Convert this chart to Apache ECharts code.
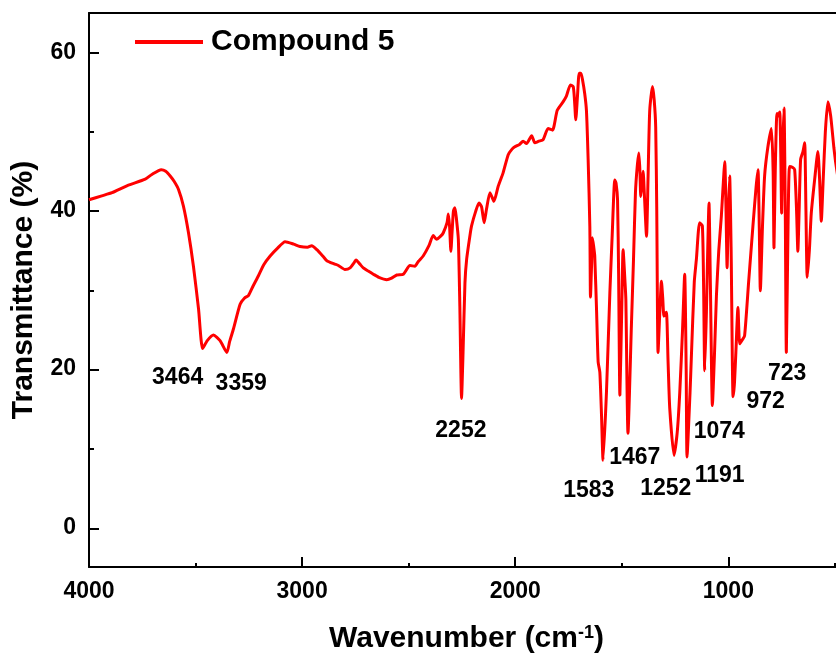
<!DOCTYPE html>
<html><head><meta charset="utf-8">
<script src="https://cdn.jsdelivr.net/npm/echarts@6/dist/echarts.min.js"></script>
<style>html,body{margin:0;padding:0;background:#fff}#c{width:836px;height:659px}</style>
</head><body><div id="c"></div>
<script>
// ---- data ----
const wavenumber = [4000,3940,3892,3820,3736,3705,3661,3640,3619,3600,3580,3557,3533,3510,3486,3467,3445,3416,3385,3353,3340,3322,3291,3270,3252,3230,3205,3180,3150,3115,3080,3040,3010,2975,2955,2931,2900,2884,2850,2830,2799,2775,2755,2747,2730,2713,2690,2666,2640,2603,2580,2556,2525,2494,2471,2455,2432,2405,2385,2369,2350,2338,2320,2314,2308,2302,2296,2290,2283,2276,2267,2260,2252,2245,2236,2228,2213,2205,2185,2170,2158,2146,2135,2119,2110,2100,2080,2057,2033,2015,2002,1980,1963,1947,1923,1908,1890,1869,1846,1825,1803,1775,1760,1741,1728,1722,1716,1708,1700,1692,1684,1674,1666,1658,1650,1647,1642,1638,1632,1627,1618,1611,1603,1595,1588,1572,1556,1545,1533,1527,1520,1515,1509,1500,1494,1485,1481,1471,1455,1445,1436,1428,1420,1415,1411,1405,1400,1394,1384,1377,1369,1356,1348,1341,1336,1330,1322,1314,1308,1302,1291,1283,1275,1255,1240,1228,1215,1205,1198,1194,1180,1174,1160,1150,1135,1122,1116,1111,1103,1097,1091,1084,1075,1065,1056,1045,1033,1025,1017,1011,1006,1000,994,987,978,972,965,955,947,935,924,905,885,870,861,855,850,840,830,815,798,790,786,780,772,765,759,754,750,745,739,733,728,720,713,700,689,680,674,668,661,650,642,636,630,620,611,595,580,572,564,555,545,533,520,505,497,485];
const transmittance = [41.4,41.9,42.3,43.2,44.0,44.6,45.2,45.0,44.4,43.7,42.7,40.6,37.2,33.0,27.6,22.6,23.6,24.3,23.6,22.1,23.5,25.1,28.2,29.0,29.3,30.5,31.8,33.2,34.3,35.3,36.1,35.8,35.5,35.4,35.6,35.1,34.2,33.7,33.3,33.1,32.6,32.8,33.5,33.8,33.3,32.8,32.4,32.0,31.6,31.3,31.5,31.9,32.0,33.1,33.0,33.6,34.3,35.6,36.9,36.4,36.8,37.2,38.5,39.6,38.0,34.9,37.5,40.0,40.4,39.0,36.4,28.0,16.3,22.0,30.9,33.9,36.8,38.1,40.0,41.0,40.5,38.5,40.2,42.3,41.8,41.2,43.1,44.8,47.1,47.8,48.1,48.4,48.8,48.5,49.5,48.6,48.8,49.0,50.4,50.2,52.7,53.8,54.5,55.9,55.7,54.0,51.5,54.5,57.4,57.4,56.5,54.8,52.7,46.5,38.0,29.1,33.0,36.6,35.5,34.3,27.0,20.9,19.6,14.0,8.5,17.1,29.7,37.0,43.9,43.5,41.4,32.0,16.7,28.0,35.1,31.0,28.8,11.9,25.5,34.0,42.3,45.5,47.3,45.0,41.8,43.5,45.0,42.0,36.8,44.0,52.7,55.7,54.0,50.6,40.0,22.1,27.0,31.1,29.0,26.7,27.2,21.0,15.0,9.1,12.0,17.1,25.0,32.0,20.0,8.9,17.0,21.3,31.0,33.9,38.5,38.1,30.0,19.8,27.2,35.0,41.0,30.0,15.4,22.0,29.3,35.0,39.3,43.0,46.2,40.0,32.8,40.0,44.4,35.0,16.5,18.0,22.0,27.8,23.2,23.7,24.2,31.0,38.0,43.0,45.2,38.0,29.9,38.0,44.4,48.0,50.4,45.0,35.3,45.0,52.3,52.0,52.5,47.0,39.7,48.0,53.0,40.0,22.1,38.0,45.6,45.5,45.2,40.0,34.9,40.0,46.5,47.5,48.6,40.0,31.6,35.0,39.7,44.0,47.5,44.0,38.7,44.0,50.0,53.8,52.0,48.0,46.2,44.0];
const peakText = ['3464','3359','2252','1583','1467','1252','1191','1074','972','723'];
const peakLabelWn = [3584,3286,2255,1655,1439,1294,1041,1043,825,724];
const peakLabelT = [18.9,18.2,12.2,4.6,8.8,4.9,6.6,12.1,15.9,19.4];
const xMajorTicks = [1000,2000,3000,4000];
const xMinorTicks = [500,1500,2500,3500];
const yMajorTicks = [0,20,40,60];
const yTickMin = 0, yTickMax = 60, yTickStep = 20;
const seriesName = 'Compound 5';

// ---- chart ----
const FONT = '"Liberation Sans", Arial, Helvetica, sans-serif';
const chart = echarts.init(document.getElementById('c'), null, {renderer:'canvas'});
const lineData = wavenumber.map((w,i)=>[w, transmittance[i]]);
const labelData = peakText.map((t,i)=>[peakLabelWn[i], peakLabelT[i], t]);
const axisLine = () => ({show:true, onZero:false, lineStyle:{color:'#000', width:2}});
const noLine = () => ({show:false, onZero:false});
const X_MIN = 495, X_MAX = 4000, Y_MIN = -5, Y_MAX = 65;
const xBase = (g) => ({type:'value', inverse:true, min:X_MIN, max:X_MAX, gridIndex:g, splitLine:{show:false}});
const yBase = (g) => ({type:'value', min:Y_MIN, max:Y_MAX, gridIndex:g, splitLine:{show:false}});
const tick = (vals, len) => ({show:true, inside:true, length:len, lineStyle:{color:'#000', width:2}, customValues:vals.slice()});
const labelStyle = (vals) => ({show:true, customValues:vals.slice(), formatter:v=>String(v), margin:13, fontSize:23, fontWeight:'bold', color:'#000', fontFamily:FONT});
const G = {left:89, right:0, top:13, bottom:91};
const H = 659 - G.top - G.bottom, pxPerUnit = H / (Y_MAX - Y_MIN);
// sub-grids spanning exactly yTickMin..yTickMax so interval ticks start at a multiple of the step
const tickTop = G.top + (Y_MAX - yTickMax) * pxPerUnit;
const tickBottom = G.bottom + (yTickMin - Y_MIN) * pxPerUnit;
const gridTicksY = {left:G.left, right:G.right, top:tickTop, bottom:tickBottom, show:false};
const gridMajorY = {left:G.left, width:10, top:tickTop, bottom:tickBottom, show:false};
chart.setOption({
  animation:false,
  backgroundColor:'#fff',
  grid:[Object.assign({}, G), Object.assign({show:false}, G), gridTicksY, gridMajorY],
  legend:{
    data:[seriesName], left:135, top:27, padding:0,
    itemWidth:68, itemHeight:4, icon:'rect',
    textStyle:{fontSize:30, fontWeight:'bold', color:'#000', fontFamily:FONT, padding:[0,0,0,3]}
  },
  xAxis:[
    Object.assign(xBase(0), {
      position:'bottom', axisLine:axisLine(),
      axisTick:tick(xMajorTicks, 10),
      axisLabel:labelStyle(xMajorTicks),
      name:'Wavenumber (cm{sup|-1})', nameLocation:'middle', nameGap:57,
      nameTextStyle:{fontSize:30, fontWeight:'bold', color:'#000', fontFamily:FONT, padding:[0,0,0,8],
        rich:{sup:{fontSize:18, fontWeight:'bold', color:'#000', fontFamily:FONT, verticalAlign:'top', lineHeight:16}}}
    }),
    Object.assign(xBase(0), {
      position:'top', axisLine:axisLine(), axisTick:{show:false}, axisLabel:{show:false}
    }),
    Object.assign(xBase(1), {
      position:'bottom', axisLine:noLine(), axisTick:tick(xMinorTicks, 5), axisLabel:{show:false}
    }),
    Object.assign(xBase(2), {
      position:'bottom', axisLine:noLine(), axisTick:{show:false}, axisLabel:{show:false}
    }),
    Object.assign(xBase(3), {
      position:'bottom', axisLine:noLine(), axisTick:{show:false}, axisLabel:{show:false}
    })
  ],
  yAxis:[
    Object.assign(yBase(0), {
      position:'left', axisLine:axisLine(),
      axisTick:{show:false},
      axisLabel:labelStyle(yMajorTicks),
      name:'Transmittance (%)', nameLocation:'middle', nameGap:50,
      nameTextStyle:{fontSize:30, fontWeight:'bold', color:'#000', fontFamily:FONT}
    }),
    Object.assign(yBase(1), {
      position:'left', axisLine:noLine(), axisTick:{show:false}, axisLabel:{show:false}
    }),
    {
      type:'value', gridIndex:2, position:'left', min:yTickMin, max:yTickMax, interval:yTickStep,
      axisLine:noLine(), axisLabel:{show:false}, splitLine:{show:false},
      axisTick:{show:true, inside:true, length:10, lineStyle:{color:'#000', width:2}},
      minorTick:{show:true, splitNumber:2, length:5, lineStyle:{color:'#000', width:2}}
    },
    {
      type:'value', gridIndex:3, position:'left', min:yTickMin, max:yTickMax, interval:yTickStep,
      axisLine:noLine(), axisLabel:{show:false}, axisTick:{show:false},
      splitLine:{show:true, lineStyle:{color:'#000', width:2, type:'solid'}}
    }
  ],
  series:[
    {
      name:seriesName, type:'line', xAxisIndex:0, yAxisIndex:0,
      data:lineData, showSymbol:false, symbol:'none', smooth:0.2,
      lineStyle:{color:'#ff0000', width:3}, itemStyle:{color:'#ff0000'}, clip:true, z:3
    },
    {
      name:'peaks', type:'scatter', xAxisIndex:0, yAxisIndex:0,
      data:labelData, symbolSize:0, silent:true, z:4,
      itemStyle:{opacity:1},
      label:{show:true, position:'inside', formatter:p=>p.value[2], fontSize:23, fontWeight:'bold', color:'#000', opacity:1, fontFamily:FONT}
    }
  ]
});
</script>
</body></html>
